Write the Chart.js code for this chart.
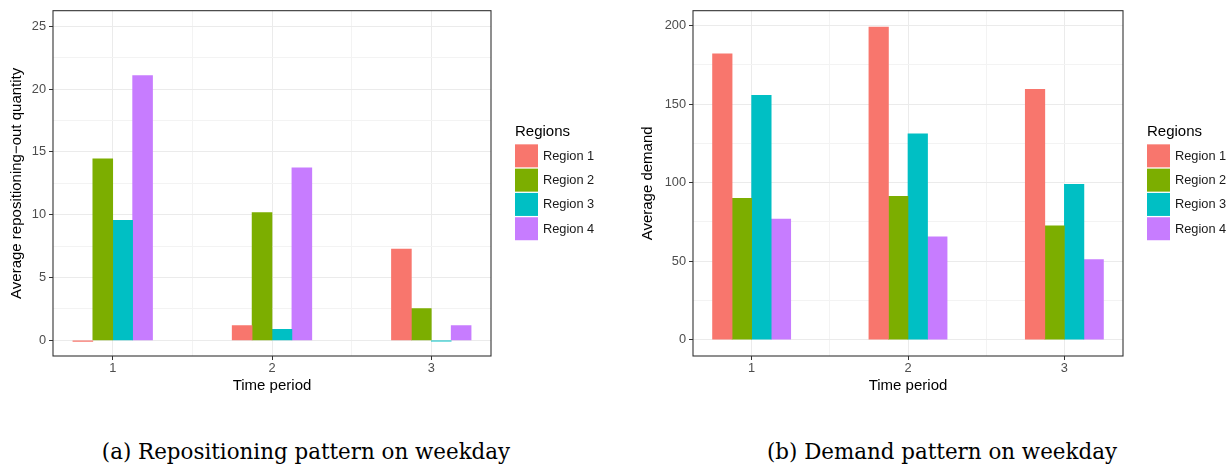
<!DOCTYPE html>
<html>
<head>
<meta charset="utf-8">
<script src="https://cdn.jsdelivr.net/npm/chart.js@4.4.1/dist/chart.umd.min.js"></script>
<style>
  body { margin: 0; background: #fff; }
  #page { position: relative; width: 1231px; height: 466px; overflow: hidden; }
  canvas { position: absolute; top: 0; }
  .caption {
    position: absolute; top: 439px; font-family: "DejaVu Serif", serif; font-size: 21.4px;
    color: #000; white-space: nowrap; transform: translateX(-50%);
  }
</style>
</head>
<body>
<div id="page">
  <canvas id="left" width="615" height="400" style="left:0"></canvas>
  <canvas id="right" width="616" height="400" style="left:615px"></canvas>
  <div class="caption" style="left:306px">(a) Repositioning pattern on weekday</div>
  <div class="caption" style="left:942px">(b) Demand pattern on weekday</div>
</div>
<script>
const periods = [1, 2, 3];
const regions = ['Region 1', 'Region 2', 'Region 3', 'Region 4'];
const regionColors = ['#F8766D', '#7CAE00', '#00BFC4', '#C77CFF'];

// (a) average repositioning-out quantity, one array per region
const repoRegion1 = [-0.08, 1.18, 7.26];
const repoRegion2 = [14.45, 10.18, 2.53];
const repoRegion3 = [9.55, 0.87, -0.06];
const repoRegion4 = [21.08, 13.74, 1.18];

// (b) average demand
const demandRegion1 = [182.1, 199.2, 159.5];
const demandRegion2 = [90.1, 91.4, 72.5];
const demandRegion3 = [155.7, 131.1, 98.9];
const demandRegion4 = [76.9, 65.5, 51.0];

// axis breaks (majors labelled, minors only as grid)
const xBreaks = [1, 1.5, 2, 2.5, 3];
const repoBreaks = [0, 2.5, 5, 7.5, 10, 12.5, 15, 17.5, 20, 22.5, 25];
const demandBreaks = [0, 25, 50, 75, 100, 125, 150, 175, 200];

const FONT = '"Liberation Sans", Arial, sans-serif';

// panel border like theme_bw
const panelBorder = {
  id: 'panelBorder',
  afterDatasetsDraw(chart) {
    const a = chart.chartArea;
    const ctx = chart.ctx;
    ctx.save();
    ctx.strokeStyle = '#333333';
    ctx.lineWidth = 1.1;
    ctx.strokeRect(a.left, a.top, a.right - a.left, a.bottom - a.top);
    ctx.restore();
  }
};

// ggplot style legend to the right of the panel
const ggLegend = {
  id: 'ggLegend',
  afterDraw(chart) {
    const a = chart.chartArea;
    const ctx = chart.ctx;
    const x0 = a.right + 24;
    const mid = (a.top + a.bottom) / 2;
    ctx.save();
    ctx.fillStyle = '#000';
    ctx.font = '15px ' + FONT;
    ctx.textBaseline = 'middle';
    ctx.textAlign = 'left';
    ctx.fillText('Regions', x0, mid - 51);
    let y = mid - 39;
    ctx.font = '12.8px ' + FONT;
    chart.data.datasets.forEach(ds => {
      ctx.fillStyle = ds.backgroundColor;
      ctx.fillRect(x0, y, 23, 23);
      ctx.fillStyle = '#1A1A1A';
      ctx.fillText(ds.label, x0 + 28, y + 12);
      y += 24.3;
    });
    ctx.restore();
  }
};

function makeChart(id, series, breaks, majorStep, yMin, yMax, yTitle, axisWidth, rightPad, titlePad) {
  const datasets = series.map((vals, i) => ({
    label: regions[i],
    data: periods.map((p, j) => ({ x: p, y: vals[j] })),
    backgroundColor: regionColors[i],
    borderWidth: 0,
    barPercentage: 1,
    categoryPercentage: 1
  }));
  const isMajorX = c => c.tick && Number.isInteger(c.tick.value);
  const isMajorY = c => c.tick && Math.abs(c.tick.value % majorStep) < 1e-9;
  return new Chart(document.getElementById(id), {
    type: 'bar',
    data: { datasets },
    plugins: [panelBorder, ggLegend],
    options: {
      responsive: false,
      animation: false,
      devicePixelRatio: 1,
      layout: { padding: { top: 6, right: rightPad, bottom: 0, left: 0 } },
      plugins: { legend: { display: false }, tooltip: { enabled: false } },
      scales: {
        x: {
          type: 'linear',
          min: 0.625,
          max: 3.375,
          offset: false,
          afterBuildTicks: s => { s.ticks = xBreaks.map(v => ({ value: v })); },
          afterFit: s => { s.height = 44; },
          border: { display: false },
          grid: {
            offset: false,
            color: c => isMajorX(c) ? '#EBEBEB' : '#F3F3F3',
            lineWidth: 1,
            tickColor: c => isMajorX(c) ? '#333333' : 'rgba(0,0,0,0)',
            tickLength: 4
          },
          ticks: {
            autoSkip: false,
            maxRotation: 0,
            padding: 1,
            color: '#4D4D4D',
            font: { family: FONT, size: 12.8 },
            callback: v => Number.isInteger(v) ? String(v) : ''
          },
          title: {
            display: true,
            text: 'Time period',
            color: '#000',
            font: { family: FONT, size: 15 },
            padding: { top: 0, bottom: 5 }
          }
        },
        y: {
          min: yMin,
          max: yMax,
          afterBuildTicks: s => { s.ticks = breaks.map(v => ({ value: v })); },
          afterFit: s => { s.width = axisWidth; },
          border: { display: false },
          grid: {
            color: c => isMajorY(c) ? '#EBEBEB' : '#F3F3F3',
            lineWidth: 1,
            tickColor: c => isMajorY(c) ? '#333333' : 'rgba(0,0,0,0)',
            tickLength: 4
          },
          ticks: {
            autoSkip: false,
            padding: 3,
            color: '#4D4D4D',
            font: { family: FONT, size: 12.8 },
            callback: v => Math.abs(v % majorStep) < 1e-9 ? String(v) : ''
          },
          title: {
            display: true,
            text: yTitle,
            color: '#000',
            font: { family: FONT, size: 15 },
            padding: { top: titlePad, bottom: 0 }
          }
        }
      }
    }
  });
}

makeChart('left', [repoRegion1, repoRegion2, repoRegion3, repoRegion4], repoBreaks, 5,
  -1.25, 26.25, 'Average repositioning\u2212out quantity', 53, 124, 8);
makeChart('right', [demandRegion1, demandRegion2, demandRegion3, demandRegion4], demandBreaks, 50,
  -10.4, 209.6, 'Average demand', 78, 108, 24);
</script>
</body>
</html>
